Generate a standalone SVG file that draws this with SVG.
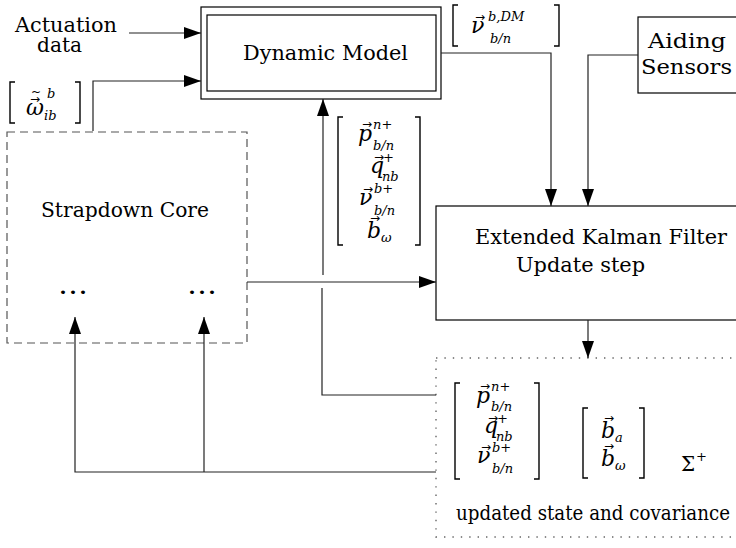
<svg xmlns="http://www.w3.org/2000/svg" width="736" height="548" viewBox="0 0 736 548">
<defs>
<marker id="ah" markerUnits="userSpaceOnUse" markerWidth="17" markerHeight="12" refX="17" refY="6" orient="auto">
<path d="M0,0 L17,6 L0,12 z" fill="#000"/>
</marker>
<style>
.t{font-family:"DejaVu Serif","Liberation Serif",serif;font-size:20px;fill:#000}
.m{font-family:"DejaVu Serif","Liberation Serif",serif;font-size:22px;font-style:italic;fill:#000}
.s{font-size:13px;font-style:italic}
.u{font-style:normal}
.a{font-family:"DejaVu Sans",sans-serif;font-size:12px;font-style:normal}
.box{fill:#fff;stroke:#000;stroke-width:1.2}
.br{fill:none;stroke:#000;stroke-width:1.4}
.c{fill:none;stroke:#222;stroke-width:1.2}
</style>
</defs>

<g id="dynamic-model">
<rect class="box" x="201" y="7" width="240" height="92"/>
<rect class="box" x="207" y="15" width="229" height="76"/>
<text class="t" x="243" y="60" textLength="165" lengthAdjust="spacingAndGlyphs">Dynamic Model</text>
</g>

<g id="actuation-data">
<text class="t" x="15" y="32" textLength="102" lengthAdjust="spacingAndGlyphs">Actuation</text>
<text class="t" x="37" y="52" textLength="45" lengthAdjust="spacingAndGlyphs">data</text>
</g>

<g id="aiding-sensors">
<rect class="box" x="638" y="17" width="110" height="76"/>
<text class="t" x="648" y="48" textLength="78" lengthAdjust="spacingAndGlyphs">Aiding</text>
<text class="t" x="641" y="74" textLength="91" lengthAdjust="spacingAndGlyphs">Sensors</text>
</g>

<g id="strapdown-core">
<rect x="7" y="132" width="240" height="211" fill="none" stroke="#555" stroke-width="1.2" stroke-dasharray="8 5"/>
<text class="t" x="41" y="217" textLength="168" lengthAdjust="spacingAndGlyphs">Strapdown Core</text>
<text class="t" x="58" y="294" textLength="30" lengthAdjust="spacingAndGlyphs" style="font-size:26px">…</text>
<text class="t" x="187" y="294" textLength="30" lengthAdjust="spacingAndGlyphs" style="font-size:26px">…</text>
</g>

<g id="ekf">
<rect class="box" x="436" y="206" width="310" height="114"/>
<text class="t" x="475" y="244" textLength="252" lengthAdjust="spacingAndGlyphs">Extended Kalman Filter</text>
<text class="t" x="516" y="272" textLength="129" lengthAdjust="spacingAndGlyphs">Update step</text>
</g>

<g id="updated-state">
<rect x="436" y="358" width="310" height="179" fill="none" stroke="#666" stroke-width="1.4" stroke-dasharray="1.4 7"/>
<path class="br" d="M460,383 H455 V479 H460 M534,383 H539 V479 H534"/>
<text class="m" x="476" y="403">p<tspan class="a" x="480" y="390">→</tspan><tspan class="s" x="491" y="391">n<tspan class="u">+</tspan></tspan><tspan class="s" x="491" y="411">b/n</tspan></text>
<text class="m" x="484" y="433">q<tspan class="a" x="488" y="422">→</tspan><tspan class="s" x="497" y="423"><tspan class="u">+</tspan></tspan><tspan class="s" x="496" y="441">nb</tspan></text>
<text class="m" x="477" y="463">ν<tspan class="a" x="481" y="451">→</tspan><tspan class="s" x="492" y="452">b<tspan class="u">+</tspan></tspan><tspan class="s" x="492" y="473">b/n</tspan></text>
<path class="br" d="M588,408 H583 V478 H588 M639,408 H644 V478 H639"/>
<text class="m" x="601" y="438">b<tspan class="a" x="604" y="422">→</tspan><tspan class="s" x="615" y="442">a</tspan></text>
<text class="m" x="601" y="466">b<tspan class="a" x="604" y="450">→</tspan><tspan class="s" x="615" y="470">ω</tspan></text>
<text class="t" x="681" y="471">Σ<tspan class="s u" x="696" y="461">+</tspan></text>
<text class="t" x="456" y="520" textLength="274" lengthAdjust="spacingAndGlyphs">updated state and covariance</text>
</g>

<g id="omega-label">
<path class="br" d="M15,82 H10 V123 H15 M75,82 H80 V123 H75"/>
<text class="m" x="26" y="115">ω<tspan class="a" x="30" y="103">→</tspan><tspan class="a" x="31" y="96">~</tspan><tspan class="s" x="47" y="98">b</tspan><tspan class="s" x="44" y="120">ib</tspan></text>
</g>

<g id="dm-velocity-label">
<path class="br" d="M458,5 H453 V46 H458 M554,5 H559 V46 H554"/>
<text class="m" x="471" y="33">ν<tspan class="a" x="475" y="21">→</tspan><tspan class="s" x="488" y="21">b,DM</tspan><tspan class="s" x="490" y="43">b/n</tspan></text>
</g>

<g id="state-label">
<path class="br" d="M343,117 H338 V245 H343 M415,117 H420 V245 H415"/>
<text class="m" x="358" y="141">p<tspan class="a" x="362" y="128">→</tspan><tspan class="s" x="373" y="129">n<tspan class="u">+</tspan></tspan><tspan class="s" x="373" y="150">b/n</tspan></text>
<text class="m" x="370" y="173">q<tspan class="a" x="374" y="161">→</tspan><tspan class="s" x="383" y="162"><tspan class="u">+</tspan></tspan><tspan class="s" x="382" y="181">nb</tspan></text>
<text class="m" x="359" y="205">ν<tspan class="a" x="363" y="193">→</tspan><tspan class="s" x="374" y="193">b<tspan class="u">+</tspan></tspan><tspan class="s" x="374" y="215">b/n</tspan></text>
<text class="m" x="367" y="238">b<tspan class="a" x="370" y="222">→</tspan><tspan class="s" x="381" y="242">ω</tspan></text>
</g>

<g id="connectors">
<path class="c" d="M129,33 H201" marker-end="url(#ah)"/>
<path class="c" d="M93,131 V81 H201" marker-end="url(#ah)"/>
<path class="c" d="M441,53 H551 V206" marker-end="url(#ah)"/>
<path class="c" d="M638,55 H588 V206" marker-end="url(#ah)"/>
<path class="c" d="M247,282 H436" marker-end="url(#ah)"/>
<path class="c" d="M323,275 V99" marker-end="url(#ah)"/>
<path class="c" d="M588,320 V358" marker-end="url(#ah)"/>
<path class="c" d="M436,472 H75 V317" marker-end="url(#ah)"/>
<path class="c" d="M204,472 V317" marker-end="url(#ah)"/>
<path class="c" d="M436,395 H322 V288"/>
</g>
</svg>
